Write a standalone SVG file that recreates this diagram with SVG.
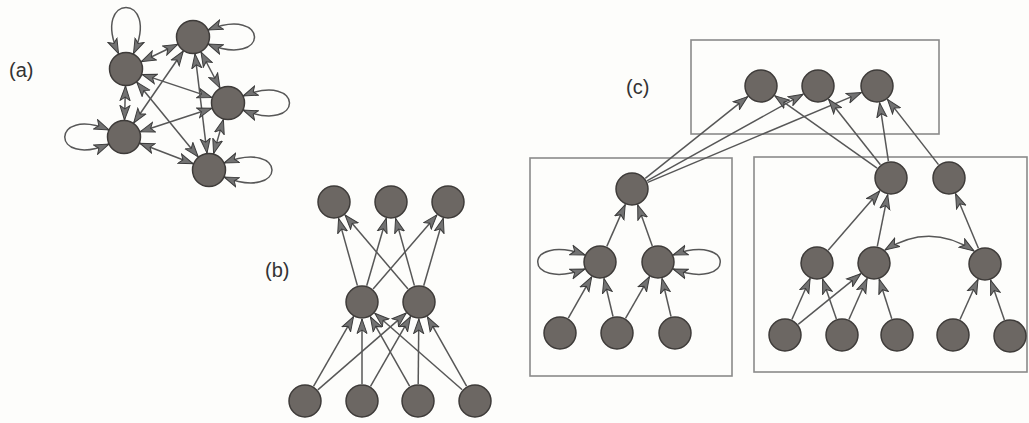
<svg xmlns="http://www.w3.org/2000/svg" width="1029" height="423" viewBox="0 0 1029 423">
<style>
.bg{fill:#fdfdfb}
.n{fill:#6c6763;stroke:#3e3b39;stroke-width:1.5}
.e{fill:none;stroke:#575757;stroke-width:1.5;marker-end:url(#ah)}
.b{marker-start:url(#ah)}
.box{fill:none;stroke:#8a8a8a;stroke-width:1.6}
.lbl{font-family:"Liberation Sans",Arial,sans-serif;font-size:20px;fill:#333}
</style>
<defs>
<marker id="ah" viewBox="0 0 16 12" refX="15" refY="6" markerWidth="16" markerHeight="12" markerUnits="userSpaceOnUse" orient="auto-start-reverse">
<path d="M0.5,1 L15,6 L0.5,11 L4,6 Z" fill="#727272" stroke="#3c3c3c" stroke-width="1"/>
</marker>
</defs>
<rect class="bg" x="0" y="0" width="1029" height="423"/>
<g id="labels">
<text class="lbl" x="9" y="77">(a)</text>
<text class="lbl" x="265" y="277">(b)</text>
<text class="lbl" x="626" y="94">(c)</text>
</g>
<g id="boxes">
<rect id="box-top" class="box" x="691" y="40" width="248" height="94"/>
<rect id="box-left" class="box" x="530" y="158" width="202" height="218"/>
<rect id="box-right" class="box" x="754" y="157" width="273" height="215"/>
</g>
<g id="connectors">
<!-- (a) -->
<path class="e b" d="M141.3,61.7 L177.7,44.3"/>
<path class="e b" d="M142.1,74.4 L211.9,97.6"/>
<path class="e b" d="M125.5,86 L124.5,120"/>
<path class="e b" d="M136.8,82.1 L198.2,156.9"/>
<path class="e b" d="M201,52 L220,88"/>
<path class="e b" d="M183.3,51 L133.7,123"/>
<path class="e b" d="M195,53.9 L207,153.1"/>
<path class="e b" d="M211.8,108.3 L140.2,131.7"/>
<path class="e b" d="M223.4,119.4 L213.6,153.6"/>
<path class="e b" d="M139.8,143.2 L193.2,163.8"/>
<path class="e b" d="M118.5,53.5 C90,-8 162,-8 133.5,53.5"/>
<path class="e b" d="M208,30 C270,5 270,69 208,44"/>
<path class="e b" d="M243,96 C305,71 305,135 243,110"/>
<path class="e b" d="M109,130 C50,105 50,169 109,144"/>
<path class="e b" d="M224,163 C288,138 288,202 224,177"/>
<!-- (b) -->
<path class="e" d="M357.4,285.6 L338.6,218.4"/>
<path class="e" d="M366.7,285.7 L386.3,218.3"/>
<path class="e" d="M373.1,289.1 L436.9,214.9"/>
<path class="e" d="M408,289 L345,215"/>
<path class="e" d="M414.4,285.6 L395.6,218.4"/>
<path class="e" d="M423.7,285.7 L443.3,218.3"/>
<path class="e" d="M313.5,386.3 L353.5,316.7"/>
<path class="e" d="M317.8,389.9 L406.2,313.1"/>
<path class="e" d="M362,384 L362,319"/>
<path class="e" d="M370.5,386.3 L410.5,316.7"/>
<path class="e" d="M409.6,386.2 L370.4,316.8"/>
<path class="e" d="M418.2,384 L418.8,319"/>
<path class="e" d="M462.2,389.8 L374.8,313.2"/>
<path class="e" d="M466.6,386.2 L427.4,316.8"/>
<!-- (c) -->
<path class="e" d="M645.3,178.4 L747.7,96.6"/>
<path class="e" d="M646.9,180.8 L803.1,94.2"/>
<path class="e" d="M647.7,182.4 L861.3,92.6"/>
<path class="e" d="M877.1,168.2 L774.9,95.8"/>
<path class="e" d="M880.4,164.7 L828.6,99.3"/>
<path class="e" d="M888.4,161.2 L879.6,102.8"/>
<path class="e" d="M938.5,164.6 L887.5,99.4"/>
<path class="e" d="M828.2,250.2 L879.8,190.8"/>
<path class="e" d="M877.3,246.3 L887.7,194.7"/>
<path class="e" d="M978.4,248.3 L955.6,193.7"/>
<path class="e b" d="M885,250 Q930,222 974,251"/>
<path class="e" d="M791.9,319.5 L810.1,278.5"/>
<path class="e" d="M798.2,324.3 L860.8,273.7"/>
<path class="e" d="M836.4,318.9 L822.6,279.1"/>
<path class="e" d="M848.9,319.5 L867.1,278.5"/>
<path class="e" d="M891.8,318.8 L879.2,279.2"/>
<path class="e" d="M960,319.5 L978,279.5"/>
<path class="e" d="M1004.4,319.9 L990.6,280.1"/>
<path class="e" d="M606.8,246.4 L625.2,204.6"/>
<path class="e" d="M652.3,246 L637.7,205"/>
<path class="e" d="M568.3,318.2 L591.7,276.8"/>
<path class="e" d="M613,316.5 L604,278.5"/>
<path class="e" d="M625.5,318.3 L649.5,276.7"/>
<path class="e" d="M671,316.5 L662,278.5"/>
<path class="e b" d="M585,255 C522,232 522,292 585,269"/>
<path class="e b" d="M673,255 C736,232 736,292 673,269"/>
</g>
<!-- (a) nodes -->
<g id="a1"><circle class="n" cx="126" cy="69" r="16.5"/></g>
<g id="a2"><circle class="n" cx="193" cy="37" r="16.5"/></g>
<g id="a3"><circle class="n" cx="228" cy="103" r="16.5"/></g>
<g id="a4"><circle class="n" cx="124" cy="137" r="16.5"/></g>
<g id="a5"><circle class="n" cx="209" cy="170" r="16.5"/></g>
<!-- (b) nodes -->
<g id="b-t1"><circle class="n" cx="334" cy="202" r="16"/></g>
<g id="b-t2"><circle class="n" cx="391" cy="202" r="16"/></g>
<g id="b-t3"><circle class="n" cx="448" cy="202" r="16"/></g>
<g id="b-m1"><circle class="n" cx="362" cy="302" r="16"/></g>
<g id="b-m2"><circle class="n" cx="419" cy="302" r="16"/></g>
<g id="b-b1"><circle class="n" cx="305" cy="401" r="16"/></g>
<g id="b-b2"><circle class="n" cx="362" cy="401" r="16"/></g>
<g id="b-b3"><circle class="n" cx="418" cy="401" r="16"/></g>
<g id="b-b4"><circle class="n" cx="475" cy="401" r="16"/></g>
<!-- (c) nodes -->
<g id="c-t1"><circle class="n" cx="761" cy="86" r="16"/></g>
<g id="c-t2"><circle class="n" cx="818" cy="86" r="16"/></g>
<g id="c-t3"><circle class="n" cx="877" cy="86" r="16"/></g>
<g id="c-lt"><circle class="n" cx="632" cy="189" r="16"/></g>
<g id="c-lm1"><circle class="n" cx="600" cy="262" r="16"/></g>
<g id="c-lm2"><circle class="n" cx="658" cy="262" r="16"/></g>
<g id="c-lb1"><circle class="n" cx="560" cy="333" r="16"/></g>
<g id="c-lb2"><circle class="n" cx="617" cy="333" r="16"/></g>
<g id="c-lb3"><circle class="n" cx="675" cy="333" r="16"/></g>
<g id="c-rt1"><circle class="n" cx="891" cy="178" r="16"/></g>
<g id="c-rt2"><circle class="n" cx="949" cy="178" r="16"/></g>
<g id="c-rm1"><circle class="n" cx="817" cy="263" r="16"/></g>
<g id="c-rm2"><circle class="n" cx="874" cy="263" r="16"/></g>
<g id="c-rm3"><circle class="n" cx="985" cy="264" r="16"/></g>
<g id="c-rb1"><circle class="n" cx="785" cy="335" r="16"/></g>
<g id="c-rb2"><circle class="n" cx="842" cy="335" r="16"/></g>
<g id="c-rb3"><circle class="n" cx="897" cy="335" r="16"/></g>
<g id="c-rb4"><circle class="n" cx="953" cy="335" r="16"/></g>
<g id="c-rb5"><circle class="n" cx="1010" cy="336" r="16"/></g>
</svg>
